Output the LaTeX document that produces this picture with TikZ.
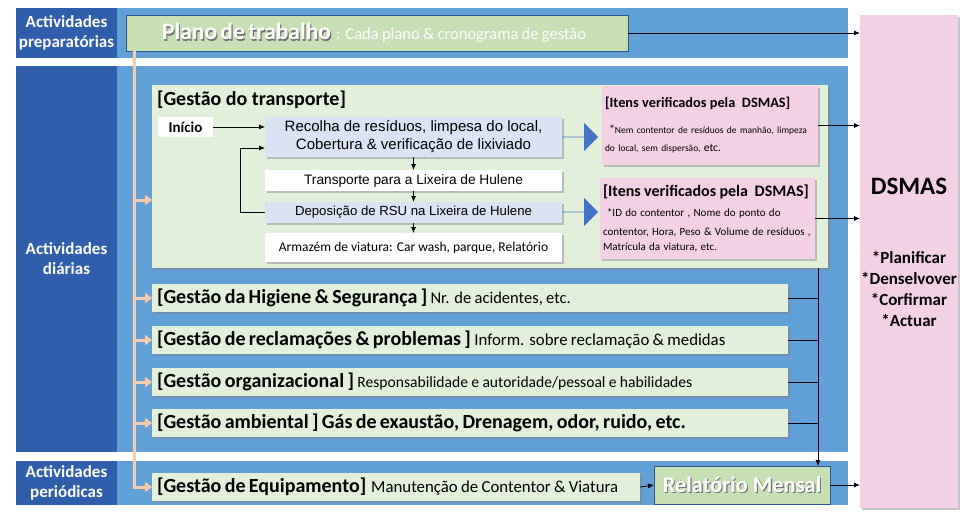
\documentclass[tikz,border=0pt]{standalone}
\usepackage{fontspec}
\setmainfont{Carlito}
\newfontfamily\arialf{Liberation Sans}
\usetikzlibrary{positioning,arrows.meta,shadows,shapes.arrows}
\definecolor{lblBlue}{HTML}{2F5EAA}
\definecolor{bandBlue}{HTML}{62A0D8}
\definecolor{planGreen}{HTML}{C6E0B4}
\definecolor{paleGreen}{HTML}{E2EFDA}
\definecolor{stepBlue}{HTML}{DAE3F3}
\definecolor{chkPink}{HTML}{F4D0E4}
\definecolor{spinePeach}{HTML}{F8CBAD}
\definecolor{bigArrow}{HTML}{4472C4}
\definecolor{frameBlue}{HTML}{2F5597}
\newcommand\shtxt[1]{\makebox[0pt][l]{\hspace{1.2pt}\raisebox{-1.2pt}{\color{black!55}#1}}#1}
\newcommand\ttlfont{\fontsize{20}{22}\selectfont\bfseries}

\begin{document}
\begin{tikzpicture}[x=1pt, y=-1pt,
  every node/.style={inner sep=0pt, outer sep=0pt},
  lbl/.style={fill=lblBlue, anchor=north west, minimum width=101pt,
             text=white, font=\fontsize{17}{20}\selectfont\bfseries, align=center},
  band/.style={fill=bandBlue, anchor=north west, minimum width=731pt},
  plan/.style={draw=frameBlue, thick, fill=planGreen, anchor=north west},
  shd/.style={drop shadow={opacity=0.45, shadow xshift=2pt, shadow yshift=-2pt}},
  rowbox/.style={fill=paleGreen, shd, anchor=north west, minimum height=28pt,
             text width=626pt, inner xsep=5pt, align=left},
  stepbox/.style={fill=#1, shd, anchor=north west, minimum width=297pt, align=center},
  chk/.style={fill=chkPink, shd, anchor=north west, align=left, inner xsep=3pt},
  arr/.style={-{Latex[length=6pt,width=5pt]}, thick, black},
  ln/.style={thick, black},
  spine/.style={spinePeach, line width=3pt},
  sparr/.style={spine, -{Triangle[length=7pt,width=10pt]}},
  blk/.style={single arrow, fill=bigArrow, minimum height=36pt, minimum width=28pt,
             single arrow head extend=6pt, single arrow tip angle=90},
]
\useasboundingbox (0,0) rectangle (973,512);
\fill[white] (0,0) rectangle (973,512);

% Left column and bands
\node[lbl, minimum height=50pt] (prep) at (16,8) {Actividades\\preparatórias};
\node[lbl, minimum height=386pt] (diar) at (16,66) {Actividades\\diárias};
\node[lbl, minimum height=44pt] (peri) at (16,461) {Actividades\\periódicas};
\node[band, minimum height=50pt] (bandA) at (117,8) {};
\node[band, minimum height=386pt] (bandB) at (117,66) {};
\node[band, minimum height=44pt] (bandC) at (117,461) {};

% DSMAS
\node[fill=chkPink, shd, anchor=north west, minimum width=98pt, minimum height=493pt] (dsmas) at (860,15) {};
\node[align=center, font=\fontsize{17}{21}\selectfont\bfseries] (dsmastxt) at (909,252)
  {{\fontsize{25}{28}\selectfont DSMAS}\\[48pt]*Planificar\\*Denselvover\\*Corfirmar\\*Actuar};

% Plano de trabalho
\node[plan, minimum width=502pt, minimum height=36pt, text width=490pt, inner xsep=6pt,
  align=left, text=white] (plano) at (126,15)
  {\hspace{30pt}{\fontsize{23.5}{26}\selectfont\bfseries\shtxt{Plano de trabalho}}\,
   {\fontsize{16.5}{18}\selectfont : Cada plano \& cronograma de gestão}};

% Gestão do transporte
\node[fill=paleGreen, shd, anchor=north west, minimum width=676pt, minimum height=183pt] (trans) at (152,85) {};
\node[anchor=west, font=\ttlfont] (transttl) at (157,100) {[Gestão do transporte]};
\node[fill=white, anchor=north west, minimum width=55pt, minimum height=20pt,
  font=\fontsize{15}{17}\selectfont\bfseries] (inicio) at (158,117) {Início};
\node[stepbox=stepBlue, minimum height=40pt, font=\arialf\fontsize{15}{18}\selectfont] (recolha) at (265,117)
  {Recolha de resíduos, limpesa do local,\\Cobertura \& verificação de lixiviado};
\node[stepbox=white, minimum height=21pt, font=\arialf\fontsize{13.7}{15}\selectfont] (transp) at (265,170)
  {Transporte para a Lixeira de Hulene};
\node[stepbox=stepBlue, minimum height=21pt, font=\arialf\fontsize{13.2}{15}\selectfont] (depo) at (265,202)
  {Deposição de RSU na Lixeira de Hulene};
\node[stepbox=white, minimum height=29pt, font=\fontsize{13.5}{15}\selectfont] (armaz) at (265,233)
  {Armazém de viatura: Car wash, parque, Relatório};

\draw[arr] (inicio.east) -- (inicio.east -| recolha.west);
\draw[arr] (recolha.south) -- (transp.north);
\draw[arr] (transp.south) -- (depo.north);
\draw[arr] (depo.south) -- (armaz.north);
\draw[arr] (depo.west) -- ++(-25,0) |- ([yshift=-11pt]recolha.west);

% Verification boxes
\node[blk] (blkA) at (580,137) {};
\node[blk] (blkB) at (580,212) {};
\node[chk, minimum width=216pt, minimum height=79pt, text width=210pt] (chkA) at (602,86)
  {{\fontsize{14.3}{16}\selectfont\bfseries [Itens verificados pela\ \ DSMAS]}\\[8pt]
   \fontsize{9.5}{18}\selectfont\hspace{4pt}{\fontsize{12}{12}\selectfont*}Nem contentor de resíduos de manhão, limpeza\\[6pt]
   do local, sem dispersão, {\fontsize{11.5}{12}\selectfont etc.}};
\node[chk, minimum width=213pt, minimum height=81pt, text width=209pt] (chkB) at (600,178)
  {{\fontsize{16}{18}\selectfont\bfseries [Itens verificados pela\ \ DSMAS]}\\[4pt]
   \fontsize{11}{16}\selectfont\hspace{4pt}*ID do contentor , Nome do ponto do\\[3pt]
   contentor, Hora, Peso \& Volume de resíduos ,\\[3pt]
   Matrícula da viatura, etc.};
\draw[arr] (chkA.east) -- (chkA.east -| dsmas.west);
\draw[arr] (chkB.east) -- (chkB.east -| dsmas.west);
\draw[arr] (plano.east) -- (plano.east -| dsmas.west);

% Other daily management rows
\node[rowbox] (hig) at (152,284)
  {{\ttlfont [Gestão da Higiene \& Segurança ]} {\fontsize{16.5}{18}\selectfont Nr. de acidentes, etc.}};
\node[rowbox] (recl) at (152,326)
  {{\ttlfont [Gestão de reclamações \& problemas ]} {\fontsize{16.8}{18}\selectfont Inform. sobre reclamação \& medidas}};
\node[rowbox] (org) at (152,368)
  {{\ttlfont [Gestão organizacional ]} {\fontsize{15.6}{18}\selectfont Responsabilidade e autoridade/pessoal e habilidades}};
\node[rowbox] (amb) at (152,409)
  {{\ttlfont [Gestão ambiental ] Gás de exaustão, Drenagem, odor, ruido, etc.}};

% Periodic
\node[rowbox, text width=478pt] (equip) at (152,473)
  {{\ttlfont [Gestão de Equipamento]}\, {\fontsize{16.8}{18}\selectfont Manutenção de Contentor \& Viatura}};
\node[plan, minimum width=176pt, minimum height=38pt, text=white,
  font=\fontsize{22.4}{24}\selectfont\bfseries] (rel) at (654,466) {\shtxt{Relatório Mensal}};
\draw[arr] (equip.east) -- (rel.west);
\draw[arr] (rel.east) -- (rel.east -| dsmas.west);

% Collecting line to monthly report
\coordinate (bus) at (818,268);
\draw[arr] (bus) -- (bus |- rel.north);
\foreach \r in {hig,recl,org,amb}
  \draw[ln] (\r.east) -- (\r.east -| bus);

% Peach spine
\coordinate (sp) at (134,51);
\draw[sparr] (sp) |- (equip.west);
\draw[sparr] (134,200) -- (152,200);
\foreach \r in {hig,recl,org,amb}
  \draw[sparr] (sp |- \r.west) -- (\r.west);
\end{tikzpicture}
\end{document}
